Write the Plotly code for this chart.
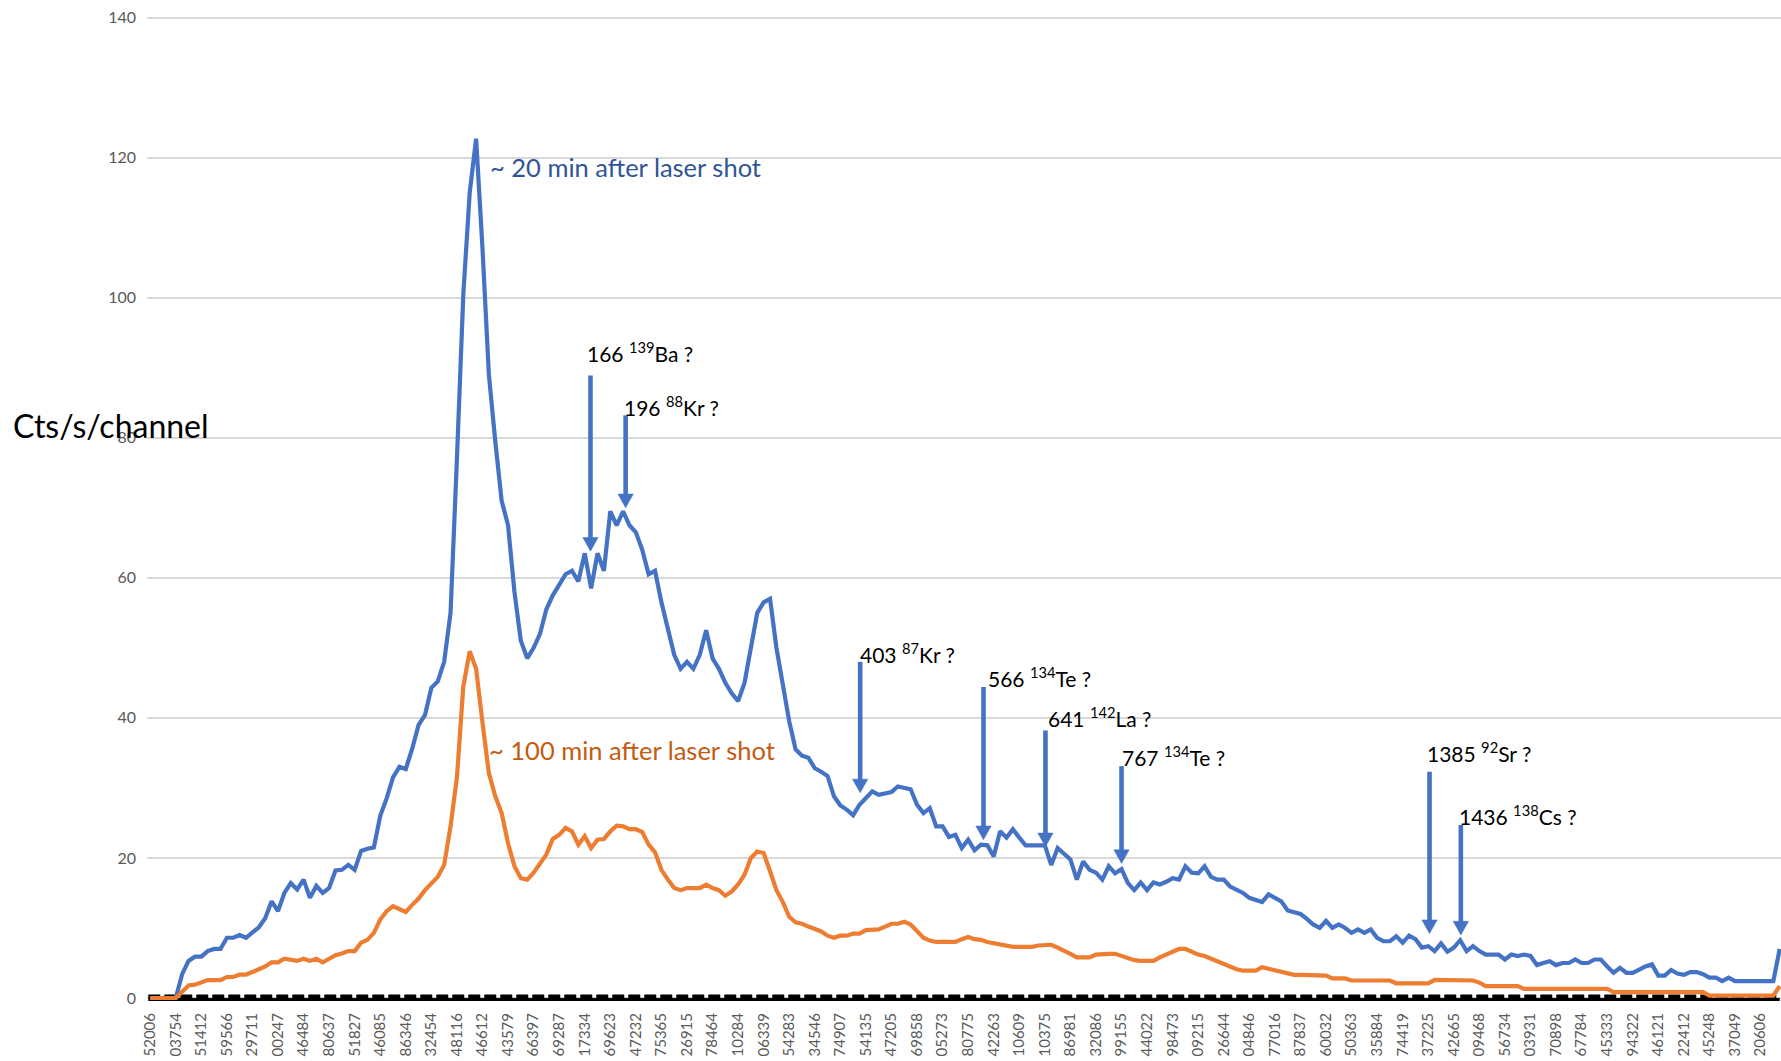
import plotly.graph_objects as go

# Category labels shown under every 4th channel
channel_labels = [
    "52006", "03754", "51412", "59566", "29711", "00247", "46484", "80637",
    "51827", "46085", "86346", "32454", "48116", "46612", "43579", "66397",
    "69287", "17334", "69623", "47232", "75365", "26915", "78464", "10284",
    "06339", "54283", "34546", "74907", "54135", "47205", "69858", "05273",
    "80775", "42263", "10609", "10375", "86981", "32086", "99155", "44022",
    "98473", "09215", "26644", "04846", "77016", "87837", "60032", "50363",
    "35884", "74419", "37225", "42665", "09468", "56734", "03931", "70898",
    "67784", "45333", "94322", "46121", "22412", "45248", "37049", "20606",
]

# Count rate per channel, ~20 min after the shot
counts_20min = [
    0, 0, 0, 0, 0, 3.4, 5.3, 5.9, 5.9, 6.7, 7.0, 7.0, 8.6, 8.6, 9.0, 8.6,
    9.3, 10.1, 11.4, 13.8, 12.4, 15.0, 16.4, 15.5, 16.9, 14.3, 16.0, 15.0, 15.7, 18.2, 18.3, 19.0,
    18.3, 21.0, 21.3, 21.5, 26.0, 28.5, 31.5, 33.0, 32.7, 35.6, 39.0, 40.4, 44.3, 45.2, 48.0, 55.0,
    77.0, 100.5, 115.0, 122.7, 107.0, 89.0, 79.5, 71.0, 67.5, 58.0, 51.0, 48.5, 50.0, 52.0, 55.5, 57.5,
    59.0, 60.5, 61.0, 59.5, 63.5, 58.5, 63.5, 61.0, 69.5, 67.5, 69.5, 67.5, 66.5, 64.0, 60.5, 61.0,
    56.5, 52.5, 49.0, 47.0, 48.0, 47.0, 49.0, 52.5, 48.5, 47.0, 45.0, 43.5, 42.4, 45.0, 50.0, 55.0,
    56.5, 57.0, 50.0, 45.0, 39.5, 35.5, 34.6, 34.3, 32.8, 32.3, 31.7, 28.8, 27.5, 26.9, 26.1, 27.6,
    28.6, 29.5, 29.0, 29.2, 29.4, 30.2, 30.0, 29.8, 27.6, 26.4, 27.1, 24.5, 24.5, 23.0, 23.3, 21.4,
    22.6, 21.1, 21.9, 21.8, 20.2, 23.8, 22.9, 24.1, 22.9, 21.8, 21.8, 21.8, 21.8, 19.0, 21.4, 20.6,
    19.8, 16.9, 19.5, 18.3, 17.9, 16.9, 18.8, 17.8, 18.4, 16.4, 15.4, 16.5, 15.4, 16.5, 16.2, 16.6,
    17.1, 16.9, 18.8, 17.9, 17.8, 18.8, 17.3, 16.9, 16.9, 15.9, 15.4, 15.0, 14.3, 14.0, 13.7, 14.8,
    14.3, 13.8, 12.5, 12.3, 12.0, 11.3, 10.5, 10.0, 11.0, 10.0, 10.5, 10.0, 9.3, 9.8, 9.3, 9.8,
    8.6, 8.1, 8.1, 8.8, 7.9, 8.9, 8.4, 7.2, 7.4, 6.7, 7.8, 6.6, 7.2, 8.25, 6.7, 7.4,
    6.7, 6.2, 6.2, 6.2, 5.5, 6.2, 6.0, 6.2, 6.0, 4.7, 5.0, 5.25, 4.7, 5.0, 5.0, 5.5,
    5.0, 5.0, 5.5, 5.5, 4.5, 3.6, 4.3, 3.6, 3.6, 4.1, 4.5, 4.8, 3.2, 3.2, 4.0, 3.5,
    3.3, 3.7, 3.7, 3.4, 2.9, 2.9, 2.4, 2.9, 2.4, 2.4, 2.4, 2.4, 2.4, 2.4, 2.4, 7.0,
]

# Count rate per channel, ~100 min after the shot
counts_100min = [
    0, 0, 0, 0, 0, 0.9, 1.8, 1.9, 2.2, 2.55, 2.55, 2.55, 3.0, 3.0, 3.35, 3.35,
    3.7, 4.05, 4.5, 5.1, 5.1, 5.6, 5.4, 5.3, 5.6, 5.3, 5.6, 5.1, 5.6, 6.1, 6.35, 6.7,
    6.7, 7.9, 8.3, 9.3, 11.2, 12.4, 13.1, 12.7, 12.3, 13.3, 14.2, 15.4, 16.4, 17.3, 19.0, 24.5,
    31.5, 44.5, 49.5, 47.0, 39.3, 32.1, 28.8, 26.4, 22.1, 18.8, 17.1, 16.9, 17.9, 19.2, 20.5, 22.7,
    23.3, 24.3, 23.8, 21.9, 23.1, 21.4, 22.6, 22.7, 23.8, 24.6, 24.5, 24.1, 24.1, 23.7, 21.9, 20.8,
    18.3, 16.9, 15.7, 15.4, 15.7, 15.7, 15.7, 16.2, 15.7, 15.4, 14.6, 15.2, 16.2, 17.6, 20.0, 20.9,
    20.7, 18.1, 15.4, 13.7, 11.6, 10.8, 10.6, 10.2, 9.8, 9.5, 8.9, 8.6, 8.9, 8.9, 9.2, 9.2,
    9.7, 9.7, 9.8, 10.2, 10.6, 10.6, 10.9, 10.5, 9.5, 8.6, 8.2, 8.0, 8.0, 8.0, 8.0, 8.4,
    8.7, 8.4, 8.3, 8.0, 7.8, 7.6, 7.4, 7.3, 7.3, 7.3, 7.3, 7.5, 7.6, 7.6, 7.2, 6.8,
    6.3, 5.8, 5.8, 5.8, 6.2, 6.3, 6.3, 6.3, 6.0, 5.7, 5.4, 5.3, 5.3, 5.3, 5.8, 6.2,
    6.6, 7.0, 7.0, 6.6, 6.2, 6.0, 5.6, 5.2, 4.8, 4.4, 4.1, 3.9, 3.9, 3.9, 4.4, 4.2,
    4.0, 3.8, 3.5, 3.3, 3.3, 3.3, 3.3, 3.3, 3.2, 2.8, 2.8, 2.8, 2.5, 2.5, 2.5, 2.5,
    2.5, 2.5, 2.5, 2.1, 2.1, 2.1, 2.1, 2.1, 2.1, 2.6, 2.6, 2.6, 2.6, 2.6, 2.6, 2.5,
    2.2, 1.7, 1.7, 1.7, 1.7, 1.7, 1.7, 1.3, 1.3, 1.3, 1.3, 1.3, 1.3, 1.3, 1.3, 1.3,
    1.3, 1.3, 1.3, 1.3, 1.3, 0.85, 0.85, 0.85, 0.85, 0.85, 0.85, 0.85, 0.85, 0.85, 0.85, 0.85,
    0.85, 0.85, 0.85, 0.85, 0.35, 0.35, 0.35, 0.35, 0.35, 0.35, 0.35, 0.35, 0.35, 0.35, 0.35, 1.7,
]

# Tentative gamma-line identifications (energy in keV, isotope)
peak_energy = [166, 196, 403, 566, 641, 767, 1385, 1436]
peak_mass = [139, 88, 87, 134, 142, 134, 92, 138]
peak_element = ["Ba", "Kr", "Kr", "Te", "La", "Te", "Sr", "Cs"]
arrow_channel = [68.9, 74.4, 111.1, 130.4, 140.1, 152.0, 200.2, 205.1]
arrow_top = [88.9, 83.2, 48.0, 44.4, 38.2, 33.1, 32.3, 24.7]
arrow_tip = [63.8, 70.0, 29.3, 22.6, 21.6, 19.2, 9.2, 9.0]
label_channel = [68.2, 74.0, 110.9, 130.9, 140.3, 151.9, 199.7, 204.6]
label_level = [92.2, 84.6, 49.2, 45.8, 40.1, 34.5, 35.1, 26.1]

FONT = "Lato, 'Open Sans', sans-serif"
BLUE = "#4472C4"
ORANGE = "#ED7D31"
GREY = "#595959"

W, H = 1781, 1061
M_L, M_R, M_T, M_B = 147, 0, 14, 56

channels = list(range(len(counts_20min)))
tick_channels = channels[::4][:len(channel_labels)]

fig = go.Figure()
fig.add_trace(go.Scatter(
    x=channels, y=counts_20min, mode="lines",
    line=dict(color=BLUE, width=4.2), hoverinfo="skip", showlegend=False,
))
fig.add_trace(go.Scatter(
    x=list(range(len(counts_100min))), y=counts_100min, mode="lines",
    line=dict(color=ORANGE, width=4.2), hoverinfo="skip", showlegend=False,
))

shapes = []
# heavy black baseline with a dashed upper edge
shapes.append(dict(
    type="line", layer="between", xref="x", yref="y",
    x0=channels[0] - 0.3, x1=channels[-1], ysizemode="pixel", yanchor=0,
    y0=-1.5, y1=-1.5, line=dict(color="black", width=3),
))
shapes.append(dict(
    type="line", layer="between", xref="x", yref="y",
    x0=channels[0] - 0.3, x1=channels[-1], ysizemode="pixel", yanchor=0,
    y0=1.5, y1=1.5, line=dict(color="black", width=4, dash="12px,4px"),
))

# identification arrows
HEAD_HALF_W = 1.2    # in channels
HEAD_LEN = 1.95      # in counts
annotations = []
for ch, top, tip, lx, ly, e, m, el in zip(arrow_channel, arrow_top, arrow_tip,
                                           label_channel, label_level,
                                           peak_energy, peak_mass, peak_element):
    shapes.append(dict(
        type="line", xref="x", yref="y", x0=ch, x1=ch, y0=top, y1=tip + HEAD_LEN * 0.9,
        line=dict(color=BLUE, width=4.6),
    ))
    shapes.append(dict(
        type="path", xref="x", yref="y",
        path=f"M {ch - HEAD_HALF_W},{tip + HEAD_LEN} L {ch + HEAD_HALF_W},{tip + HEAD_LEN} L {ch},{tip} Z",
        fillcolor=BLUE, line=dict(color=BLUE, width=0.5),
    ))
    annotations.append(dict(
        xref="x", yref="y", x=lx, y=ly, xanchor="left", yanchor="middle",
        text=f"{e} <sup>{m}</sup>{el} ?", showarrow=False, borderpad=0,
        font=dict(family=FONT, size=21, color="black"),
    ))

# series captions
annotations.append(dict(
    xref="x", yref="y", x=53.0, y=118.7, xanchor="left", yanchor="middle",
    text="~ 20 min after laser shot", showarrow=False, borderpad=0,
    font=dict(family=FONT, size=25.5, color="#2F5597"),
))
annotations.append(dict(
    xref="x", yref="y", x=52.8, y=35.4, xanchor="left", yanchor="middle",
    text="~ 100 min after laser shot", showarrow=False, borderpad=0,
    font=dict(family=FONT, size=25.5, color="#C55A11"),
))

# vertical axis caption, written horizontally
plot_w = W - M_L - M_R
plot_h = H - M_T - M_B
annotations.append(dict(
    xref="paper", yref="paper", x=(12 - M_L) / plot_w, y=1 - (426 - M_T) / plot_h,
    xanchor="left", yanchor="middle", text="Cts/s/channel", showarrow=False,
    borderpad=0, font=dict(family=FONT, size=32, color="black"),
))

fig.update_layout(
    width=W, height=H,
    margin=dict(l=M_L, r=M_R, t=M_T, b=M_B, pad=0, autoexpand=False),
    paper_bgcolor="white", plot_bgcolor="white",
    font=dict(family=FONT, color=GREY),
    shapes=shapes, annotations=annotations,
    showlegend=False, hovermode=False,
)
fig.update_xaxes(
    range=[-0.5, channels[-1] + 0.2], automargin=False,
    tickmode="array", tickvals=tick_channels, ticktext=channel_labels,
    tickangle=-90, tickfont=dict(family=FONT, size=15, color=GREY),
    showgrid=False, zeroline=False, showline=False, ticks="",
    ticklabelstandoff=4,
)
fig.update_yaxes(
    range=[-1.0, 140.5], automargin=False,
    tickmode="array", tickvals=list(range(0, 141, 20)),
    tickfont=dict(family=FONT, size=16, color=GREY),
    showgrid=True, gridcolor="#D9D9D9", gridwidth=1.5,
    zeroline=False, showline=False, ticks="", ticklabelstandoff=10,
)

fig.write_html("out.html")
